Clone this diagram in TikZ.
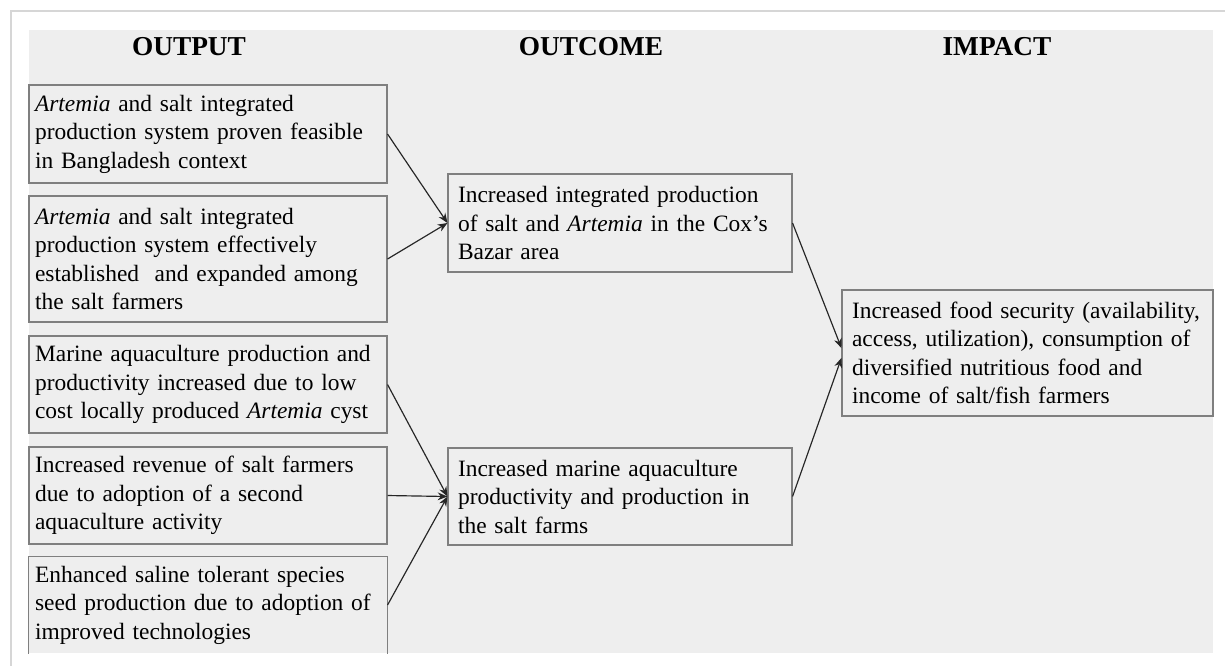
\documentclass[tikz,border=0pt]{standalone}
\usepackage{fontspec}
\setmainfont{Liberation Serif}
\usepackage{xcolor}
\usetikzlibrary{positioning,arrows.meta}

\definecolor{panel}{HTML}{EEEEEE}
\definecolor{boxline}{HTML}{7F7F7F}
\definecolor{pageedge}{HTML}{D6D6D6}

\begin{document}
\begin{tikzpicture}[x=0.018cm,y=-0.018cm,
	box/.style={draw=boxline, fill=panel, line width=0.6pt, align=left, inner ysep=0pt,
		font=\fontsize{12}{14.6}\selectfont},
	outbox/.style={box, text width=6.228cm, inner xsep=0.108cm},
	midbox/.style={box, text width=5.832cm, inner xsep=0.18cm},
	endbox/.style={box, text width=6.318cm, inner xsep=0.18cm},
	head/.style={font=\fontsize{14}{16}\selectfont\bfseries},
	link/.style={-{Stealth[length=5pt,width=4pt]}, line width=0.6pt, black!85}]
		% Page
		\useasboundingbox (0,0) rectangle (1225,666);
		\draw[pageedge, line width=1.2pt] (1225,11) -- (11,11) -- (11,666);
		\fill[panel] (29,30) rectangle (1213,653);
		
		% Headings
		\node[head] (hout) at (189,47) {OUTPUT};
		\node[head] (hcome) at (591,47) {OUTCOME};
		\node[head] (himp) at (997,47) {IMPACT};
		
		% Outputs
		\node[outbox, minimum height=1.764cm] (out1) at (208,134)
			{\emph{Artemia} and salt integrated\\production system proven feasible\\in Bangladesh context};
		\node[outbox, minimum height=2.268cm] (out2) at (208,259)
			{\emph{Artemia} and salt integrated\\production system effectively\\established\ \ and expanded among\\the salt farmers};
		\node[outbox, minimum height=1.746cm] (out3) at (208,384.5)
			{Marine aquaculture production and\\productivity increased due to low\\cost locally produced \emph{Artemia} cyst};
		\node[outbox, minimum height=1.746cm] (out4) at (208,495.5)
			{Increased revenue of salt farmers\\due to adoption of a second\\aquaculture activity};
		\node[outbox, draw=none, minimum height=1.728cm] (out5) at (208,605)
			{Enhanced saline tolerant species\\seed production due to adoption of\\improved technologies};
		\draw[boxline, line width=0.6pt] (out5.south west) |- (out5.north east) -- (out5.south east);
		
		% Outcomes
		\node[midbox, minimum height=1.764cm] (come1) at (620,223)
			{Increased integrated production\\of salt and \emph{Artemia} in the Cox's\\Bazar area};
		\node[midbox, minimum height=1.746cm] (come2) at (620,496.5)
			{Increased marine aquaculture\\productivity and production in\\the salt farms};
		
		% Impact
		\node[endbox, minimum height=2.268cm] (imp) at (1027.5,353)
			{Increased food security (availability,\\access, utilization), consumption of\\diversified nutritious food and\\income of salt/fish farmers};
		
		% Links
		\draw[link] (out1.east) -- (come1.west);
		\draw[link] (out2.east) -- (come1.west);
		\draw[link] (out3.east) -- (come2.west);
		\draw[link] (out4.east) -- (come2.west);
		\draw[link] (out5.east) -- (come2.west);
		\draw[link] (come1.east) -- ([yshift=2.5pt]imp.west);
		\draw[link] (come2.east) -- ([yshift=-2.5pt]imp.west);
	\end{tikzpicture}
\end{document}
